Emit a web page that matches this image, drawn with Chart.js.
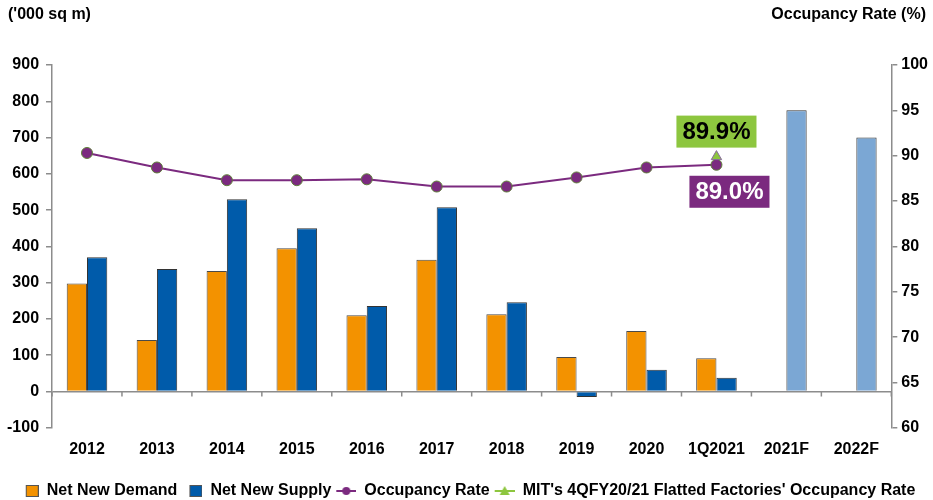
<!DOCTYPE html>
<html>
<head>
<meta charset="utf-8">
<script src="https://cdn.jsdelivr.net/npm/chart.js@4/dist/chart.umd.min.js"></script>
<style>
  html, body { margin: 0; padding: 0; background: #fff; }
  #wrap { width: 933px; height: 500px; position: relative; }
</style>
</head>
<body>
<div id="wrap"><canvas id="chart"></canvas></div>
<script>
// --- chart data ---
const categories = ['2012', '2013', '2014', '2015', '2016', '2017', '2018', '2019', '2020', '1Q2021', '2021F', '2022F'];
const netNewDemand = [298, 142, 332, 395, 210, 363, 213, 95, 167, 92, null, null];
const netNewSupply = [370, 338, 530, 450, 236, 508, 246, -15, 60, 38, 775, 700];
const occupancyRate = [90.3, 88.7, 87.3, 87.3, 87.4, 86.6, 86.6, 87.6, 88.7, 89.0, null, null];
const mitOccupancy = [null, null, null, null, null, null, null, null, null, 89.9, null, null];
const leftTicks = [-100, 900, 100];   // min, max, step
const rightTicks = [60, 100, 5];

const FONT = "'Liberation Sans', Arial, sans-serif";
const ORANGE = '#F39200';
const BLUE = '#005BAA';
const LIGHT_BLUE = '#7BA7D4';
const PURPLE = '#7B2A7F';
const GREEN = '#8DC63F';
const AXIS = '#8c8c8c';

// forecast years get the lighter blue
const supplyColors = categories.map(c => c.endsWith('F') ? LIGHT_BLUE : BLUE);

// little legend icons (box, or line with marker)
function legendIcon(kind, fill, stroke) {
    const c = document.createElement('canvas');
    c.width = 22; c.height = 14;
    const g = c.getContext('2d');
    if (kind === 'rect') {
        g.fillStyle = fill;
        g.fillRect(9, 1, 13, 12);
        g.strokeStyle = stroke;
        g.lineWidth = 1;
        g.strokeRect(9.5, 1.5, 12, 11);
    } else {
        g.strokeStyle = fill;
        g.lineWidth = 2;
        g.beginPath(); g.moveTo(2, 7); g.lineTo(22, 7); g.stroke();
        g.fillStyle = fill;
        g.beginPath();
        if (kind === 'circle') {
            g.arc(12, 7, 4, 0, Math.PI * 2);
        } else {
            g.moveTo(12, 2); g.lineTo(17, 11); g.lineTo(7, 11); g.closePath();
        }
        g.fill();
    }
    return c;
}

// headings above the two axes + small ticks on the zero line
const decorations = {
    id: 'decorations',
    beforeDatasetsDraw(chart) {
        const { ctx, scales: { x, y } } = chart;
        const zeroY = y.getPixelForValue(0);
        ctx.save();
        ctx.strokeStyle = AXIS;
        ctx.lineWidth = 1.5;
        const half = (x.getPixelForValue(1) - x.getPixelForValue(0)) / 2;
        for (let i = 0; i <= categories.length; i++) {
            const px = x.getPixelForValue(0) - half + i * half * 2;
            ctx.beginPath();
            ctx.moveTo(px, zeroY);
            ctx.lineTo(px, zeroY + 5);
            ctx.stroke();
        }
        ctx.restore();
    },
    afterDraw(chart) {
        const { ctx } = chart;
        ctx.save();
        ctx.font = 'bold 16px ' + FONT;
        ctx.fillStyle = '#000';
        ctx.textBaseline = 'middle';
        ctx.textAlign = 'left';
        ctx.fillText("('000 sq m)", 8, 15);
        ctx.textAlign = 'right';
        ctx.fillText('Occupancy Rate (%)', 926, 15);
        ctx.restore();
    }
};

// value boxes for the latest occupancy points
const valueBoxes = {
    id: 'valueBoxes',
    afterDatasetsDraw(chart) {
        const { ctx } = chart;
        const drawBox = (dsIndex, dx, dy, bg, fg) => {
            const meta = chart.getDatasetMeta(dsIndex);
            const data = chart.data.datasets[dsIndex].data;
            const i = data.findLastIndex(v => v !== null);
            const pt = meta.data[i];
            const text = data[i].toFixed(1) + '%';
            ctx.font = 'bold 24px ' + FONT;
            const w = ctx.measureText(text).width + 12;
            const h = 32;
            const cx = pt.x + dx, cy = pt.y + dy;
            ctx.fillStyle = bg;
            ctx.fillRect(cx - w / 2, cy - h / 2, w, h);
            ctx.fillStyle = fg;
            ctx.textAlign = 'center';
            ctx.textBaseline = 'middle';
            ctx.fillText(text, cx, cy + 1);
        };
        ctx.save();
        drawBox(3, 0, -25, GREEN, '#000');
        drawBox(2, 13, 27, PURPLE, '#fff');
        ctx.restore();
    }
};

new Chart(document.getElementById('chart'), {
    data: {
        labels: categories,
        datasets: [
            {
                type: 'bar',
                label: 'Net New Demand',
                data: netNewDemand,
                backgroundColor: ORANGE,
                borderColor: '#4a4a4a',
                borderWidth: 1,
                yAxisID: 'y',
                order: 3
            },
            {
                type: 'bar',
                label: 'Net New Supply',
                data: netNewSupply,
                backgroundColor: supplyColors,
                borderColor: '#333',
                borderWidth: 1,
                yAxisID: 'y',
                order: 3
            },
            {
                type: 'line',
                label: 'Occupancy Rate',
                data: occupancyRate,
                borderColor: PURPLE,
                backgroundColor: PURPLE,
                pointBackgroundColor: PURPLE,
                pointBorderColor: '#5f7f3a',
                pointBorderWidth: 1,
                pointRadius: 5.5,
                borderWidth: 2,
                yAxisID: 'y1',
                order: 2
            },
            {
                type: 'line',
                label: "MIT's 4QFY20/21 Flatted Factories' Occupancy Rate",
                data: mitOccupancy,
                borderColor: GREEN,
                backgroundColor: GREEN,
                pointStyle: 'triangle',
                pointRadius: 6,
                pointBorderColor: '#8a6aa0',
                pointBorderWidth: 1,
                borderWidth: 2,
                yAxisID: 'y1',
                order: 1
            }
        ]
    },
    options: {
        responsive: true,
        maintainAspectRatio: false,
        animation: false,
        layout: { padding: { top: 65, left: 0, right: 1, bottom: -9 } },
        datasets: {
            bar: { categoryPercentage: 0.58, barPercentage: 1.0 }
        },
        scales: {
            x: {
                grid: { display: false, drawTicks: false },
                border: { display: false },
                ticks: {
                    color: '#000',
                    padding: 12,
                    maxRotation: 0,
                    font: { family: FONT, size: 16, weight: 'bold' }
                },
                afterFit(scale) { scale.height += 9; }
            },
            y: {
                position: 'left',
                min: leftTicks[0],
                max: leftTicks[1],
                grid: {
                    color: c => c.tick && c.tick.value === 0 ? AXIS : 'rgba(0,0,0,0)',
                    lineWidth: 1.5,
                    tickColor: AXIS,
                    tickLength: 6
                },
                border: { color: AXIS, width: 1.5 },
                ticks: {
                    stepSize: leftTicks[2],
                    color: '#000',
                    padding: 7,
                    font: { family: FONT, size: 16, weight: 'bold' }
                }
            },
            y1: {
                position: 'right',
                min: rightTicks[0],
                max: rightTicks[1],
                grid: { drawOnChartArea: false, tickColor: AXIS, tickLength: 6, lineWidth: 1.5 },
                border: { color: AXIS, width: 1.5 },
                ticks: {
                    stepSize: rightTicks[2],
                    color: '#000',
                    padding: 4,
                    font: { family: FONT, size: 16, weight: 'bold' }
                }
            }
        },
        plugins: {
            tooltip: { enabled: false },
            legend: {
                position: 'bottom',
                labels: {
                    color: '#000',
                    font: { family: FONT, size: 16, weight: 'bold' },
                    usePointStyle: true,
                    pointStyleWidth: 22,
                    boxHeight: 14,
                    padding: 3,
                    generateLabels(chart) {
                        const kinds = ['rect', 'rect', 'circle', 'triangle'];
                        const fills = [ORANGE, BLUE, PURPLE, GREEN];
                        return chart.data.datasets.map((ds, i) => ({
                            text: ds.label,
                            fillStyle: fills[i],
                            strokeStyle: fills[i],
                            lineWidth: 0,
                            pointStyle: legendIcon(kinds[i], fills[i], '#555'),
                            datasetIndex: i,
                            hidden: false,
                            fontColor: '#000'
                        }));
                    }
                }
            }
        }
    },
    plugins: [decorations, valueBoxes]
});
</script>
</body>
</html>
